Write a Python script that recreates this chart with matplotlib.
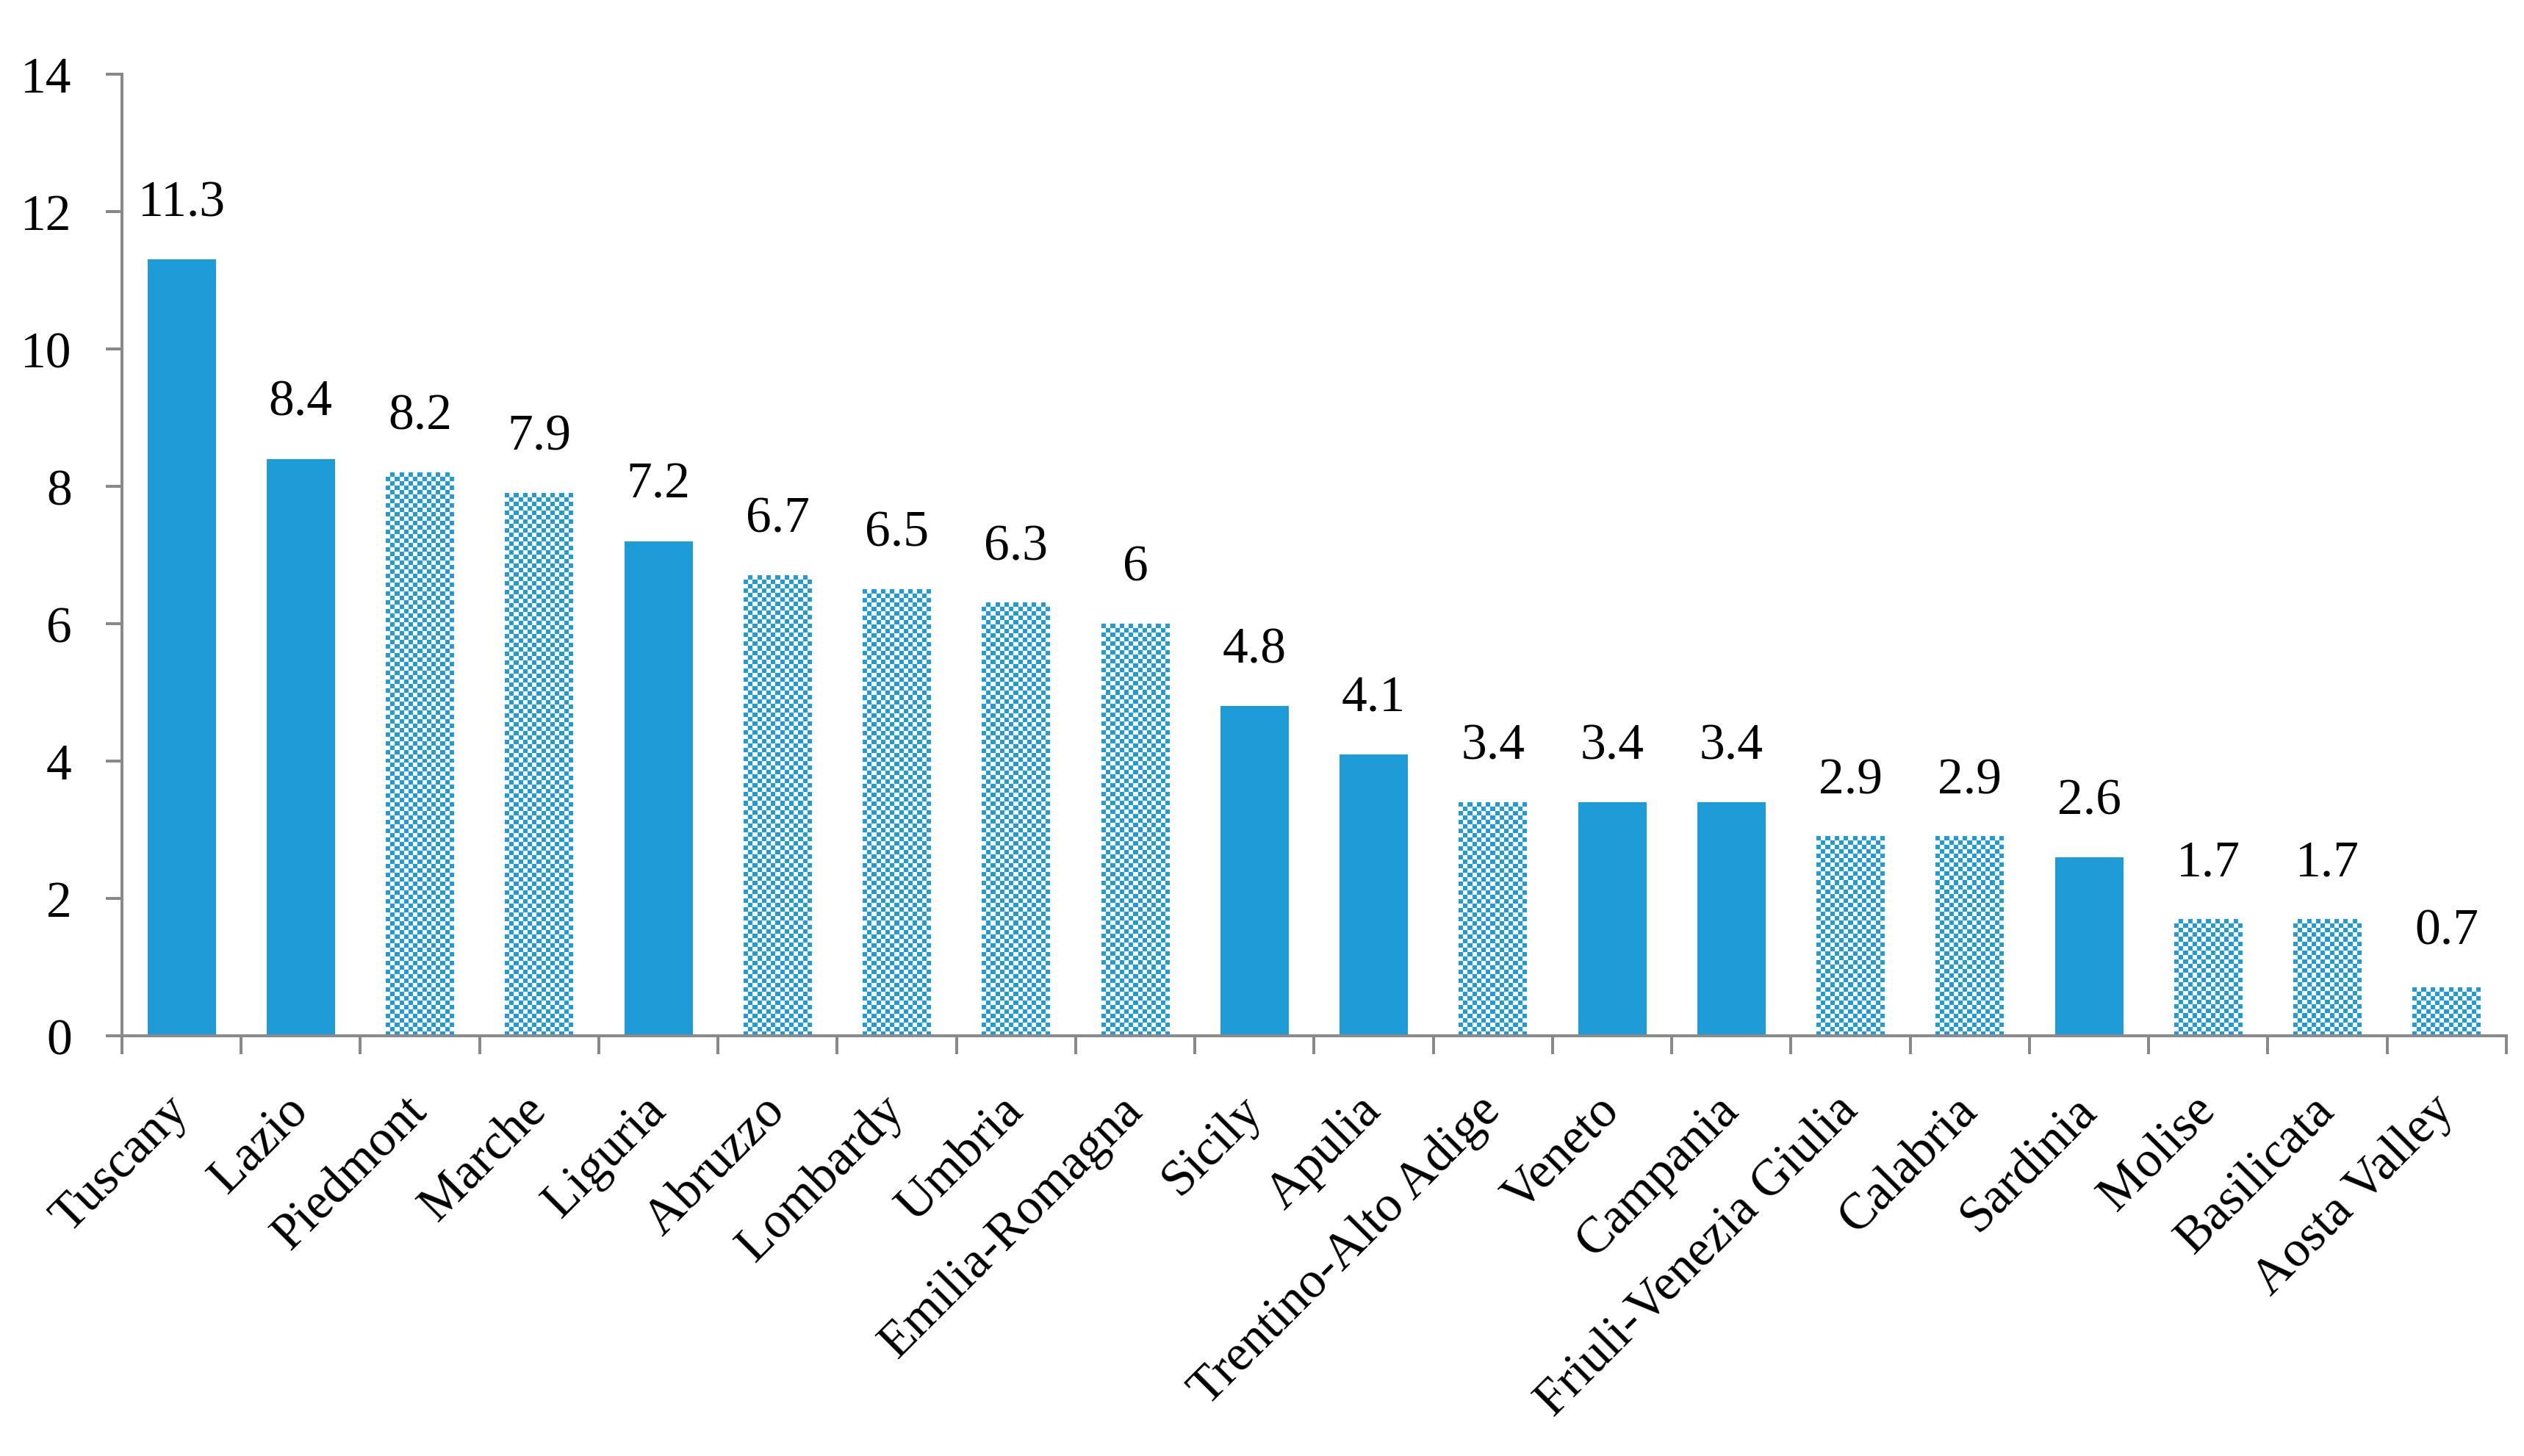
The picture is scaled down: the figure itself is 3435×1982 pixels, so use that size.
import numpy as np
import matplotlib
matplotlib.use("Agg")
import matplotlib.pyplot as plt
from matplotlib.colors import ListedColormap

regions = ["Tuscany", "Lazio", "Piedmont", "Marche", "Liguria", "Abruzzo",
           "Lombardy", "Umbria", "Emilia-Romagna", "Sicily", "Apulia",
           "Trentino-Alto Adige", "Veneto", "Campania", "Friuli-Venezia Giulia",
           "Calabria", "Sardinia", "Molise", "Basilicata", "Aosta Valley"]
values = [11.3, 8.4, 8.2, 7.9, 7.2, 6.7, 6.5, 6.3, 6, 4.8, 4.1,
          3.4, 3.4, 3.4, 2.9, 2.9, 2.6, 1.7, 1.7, 0.7]
checkered = [False, False, True, True, False, True, True, True, True, False,
             False, True, False, False, True, True, False, True, True, True]

blue = '#1e9cd7'
grey = '#898989'

plt.rcParams['font.family'] = ['Liberation Serif', 'DejaVu Serif']

fig = plt.figure(figsize=(34.35, 19.83), dpi=100)
ax = fig.add_axes([0.0483, 0.2885, 0.9447, 0.6601])

x = np.arange(len(regions))
bar_w = 0.573
bars = ax.bar(x, values, width=bar_w, color=blue, zorder=2)

ax.set_xlim(-0.5, len(regions) - 0.5)
ax.set_ylim(0, 14)

# checkerboard fill for the lighter bars
cmap = ListedColormap(['white', blue])
cell = 6.0
fig.canvas.draw()
for b, chk in zip(bars, checkered):
    if not chk:
        continue
    b.set_facecolor('none')
    x0, y0 = b.get_x(), 0
    x1, y1 = b.get_x() + b.get_width(), b.get_height()
    p0 = ax.transData.transform((x0, y0))
    p1 = ax.transData.transform((x1, y1))
    nx = max(1, int(round((p1[0] - p0[0]) / cell)))
    ny = max(1, int(round((p1[1] - p0[1]) / cell)))
    ii, jj = np.indices((ny, nx))
    board = ((ii + jj) % 2 == 0).astype(int)
    ax.imshow(board, cmap=cmap, extent=(x0, x1, y0, y1), origin='lower',
              interpolation='nearest', aspect='auto', zorder=2)

ax.set_xlim(-0.5, len(regions) - 0.5)
ax.set_ylim(0, 14)

for xi, v in zip(x, values):
    ax.annotate(f"{v:g}", (xi, v), xytext=(0, 43), textcoords='offset points',
                ha='center', va='baseline', fontsize=50)

for side in ['top', 'right']:
    ax.spines[side].set_visible(False)
for side in ['left', 'bottom']:
    ax.spines[side].set_color(grey)
    ax.spines[side].set_linewidth(2.9)

ax.set_yticks(np.arange(0, 15, 2))
ax.tick_params(axis='y', direction='out', length=16, width=2.9, color=grey,
               labelsize=50, pad=33)

ax.set_xticks(np.arange(-0.5, len(regions), 1), minor=False)
ax.set_xticklabels([])
ax.tick_params(axis='x', which='major', direction='out', length=18, width=2.9,
               color=grey)
ax.set_xticks(x, minor=True)
ax.set_xticklabels(regions, minor=True, rotation=45, ha='right',
                   rotation_mode='anchor', va='center')
ax.tick_params(axis='x', which='minor', length=0, labelsize=50, pad=66)

fig.savefig("out.png", dpi=100)
